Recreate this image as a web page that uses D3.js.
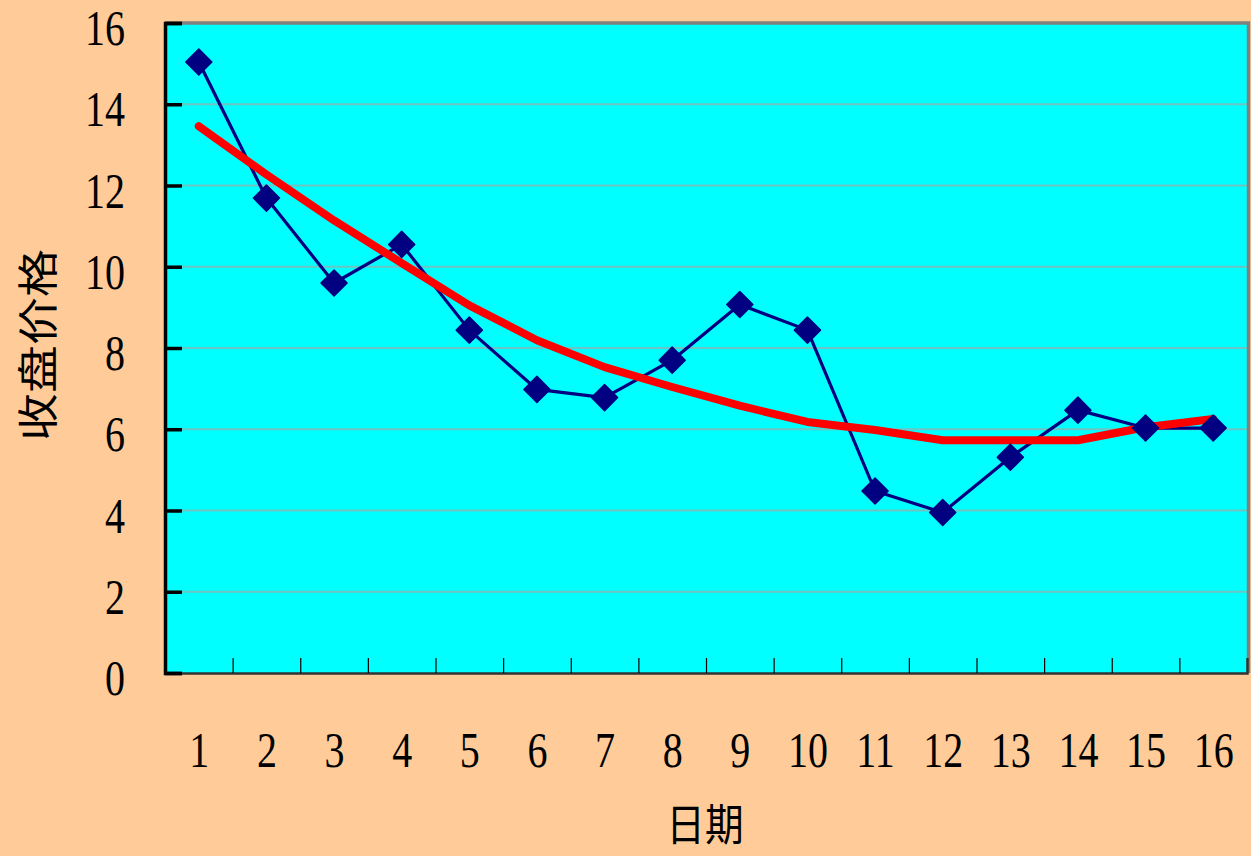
<!DOCTYPE html>
<html>
<head>
<meta charset="utf-8">
<script src="https://cdn.jsdelivr.net/npm/d3@7"></script>
<style>
  html, body { margin: 0; padding: 0; background: #FFCC99; }
  svg { display: block; }
</style>
</head>
<body>
<svg id="chart" width="1251" height="856"></svg>
<script>
// ---- data ----
const days = [1, 2, 3, 4, 5, 6, 7, 8, 9, 10, 11, 12, 13, 14, 15, 16];
const closePrice = [15.04, 11.69, 9.60, 10.55, 8.44, 6.98, 6.78, 7.70, 9.07, 8.44, 4.48, 3.95, 5.31, 6.47, 6.03, 6.03];
const trendPrice = [13.46, 12.27, 11.14, 10.09, 9.05, 8.19, 7.53, 7.04, 6.58, 6.18, 5.98, 5.73, 5.73, 5.73, 6.05, 6.25];
const yTicks = [0, 2, 4, 6, 8, 10, 12, 14, 16];
const xTitle = "日期";
const yTitle = "收盘价格";

// ---- layout ----
const W = 1251, H = 856;
const pLeft = 165, pRight = 1247, pTop = 23, pBottom = 673;
const svg = d3.select("#chart");

svg.append("rect").attr("x", 0).attr("y", 0).attr("width", W).attr("height", H).attr("fill", "#FFCC99");

const x = d3.scaleLinear().domain([0.5, 16.5]).range([pLeft, pRight]);
const y = d3.scaleLinear().domain([0, 16]).range([pBottom, pTop]);

// plot background
svg.append("rect")
  .attr("x", pLeft).attr("y", pTop)
  .attr("width", pRight - pLeft).attr("height", pBottom - pTop)
  .attr("fill", "#00FFFF");

// gridlines
svg.append("g").selectAll("line")
  .data(yTicks.filter(d => d > 0 && d < 16))
  .join("line")
  .attr("x1", pLeft).attr("x2", pRight)
  .attr("y1", d => y(d)).attr("y2", d => y(d))
  .attr("stroke", "#6CC4C4").attr("stroke-width", 2);

// gray frame top + right
svg.append("path")
  .attr("d", `M${pLeft},${pTop} L${pRight + 1.5},${pTop} L${pRight + 1.5},${pBottom}`)
  .attr("fill", "none").attr("stroke", "#808080").attr("stroke-width", 3.5);

// x axis: ticks between categories (inward)
const xTickAxis = d3.axisBottom(x)
  .tickValues(d3.range(1.5, 16.5, 1))
  .tickSize(-15).tickFormat("");
const gxt = svg.append("g").attr("transform", `translate(0,${pBottom})`).call(xTickAxis);
gxt.select(".domain").attr("stroke", "#333").attr("stroke-width", 2.5);
gxt.selectAll(".tick line").attr("stroke", "#000").attr("stroke-width", 1.2);

// x axis labels
const xLabAxis = d3.axisBottom(x).tickValues(days).tickSize(0).tickFormat(d3.format("d"));
const gxl = svg.append("g").attr("transform", `translate(0,${pBottom})`).call(xLabAxis);
gxl.select(".domain").remove();
gxl.selectAll(".tick text")
  .attr("y", 0).attr("dy", null)
  .attr("transform", "translate(0,77) scale(0.8,1)")
  .attr("dominant-baseline", "central")
  .attr("font-family", "'Liberation Serif', 'Times New Roman', serif")
  .attr("font-size", 50).attr("fill", "#000");

// y axis (inward ticks)
const yAxis = d3.axisLeft(y).tickValues(yTicks).tickSize(-17).tickFormat(d3.format("d"));
const gy = svg.append("g").attr("transform", `translate(${pLeft},0)`).call(yAxis);
gy.select(".domain").attr("stroke", "#000").attr("stroke-width", 3.5);
gy.selectAll(".tick line").attr("stroke", "#000").attr("stroke-width", 3.5);
gy.selectAll(".tick text")
  .attr("x", 0).attr("dy", null)
  .attr("text-anchor", "end")
  .attr("dominant-baseline", "central")
  .attr("transform", "translate(-40,5) scale(0.8,1)")
  .attr("font-family", "'Liberation Serif', 'Times New Roman', serif")
  .attr("font-size", 50).attr("fill", "#000");

// series: close price line
const line = d3.line().x((d, i) => x(days[i])).y(d => y(d));
svg.append("path")
  .datum(closePrice)
  .attr("d", line)
  .attr("fill", "none").attr("stroke", "#000080").attr("stroke-width", 3.2)
  .attr("stroke-linejoin", "round");

// trend line
svg.append("path")
  .datum(trendPrice)
  .attr("d", line)
  .attr("fill", "none").attr("stroke", "#FF0000").attr("stroke-width", 8)
  .attr("stroke-linejoin", "round").attr("stroke-linecap", "round");

// diamond markers
const diamond = d3.symbol().type(d3.symbolSquare).size(340);
svg.append("g").selectAll("path")
  .data(closePrice)
  .join("path")
  .attr("d", diamond)
  .attr("transform", (d, i) => `translate(${x(days[i])},${y(d)}) rotate(45)`)
  .attr("fill", "#000080")
  .attr("stroke", "#000080").attr("stroke-width", 1.5).attr("stroke-linejoin", "round");

// axis titles
svg.append("text")
  .attr("transform", `translate(${(pLeft + pRight) / 2 - 1},841) scale(0.88,1)`)
  .attr("text-anchor", "middle")
  .attr("font-family", "'Noto Sans CJK SC', sans-serif")
  .attr("font-size", 44).attr("fill", "#000")
  .text(xTitle);

svg.append("text")
  .attr("transform", `translate(35,345) scale(0.85,1) rotate(-90)`)
  .attr("text-anchor", "middle").attr("dominant-baseline", "central")
  .attr("font-family", "'Noto Sans CJK SC', sans-serif")
  .attr("font-size", 48).attr("fill", "#000")
  .text(yTitle);
</script>
</body>
</html>
